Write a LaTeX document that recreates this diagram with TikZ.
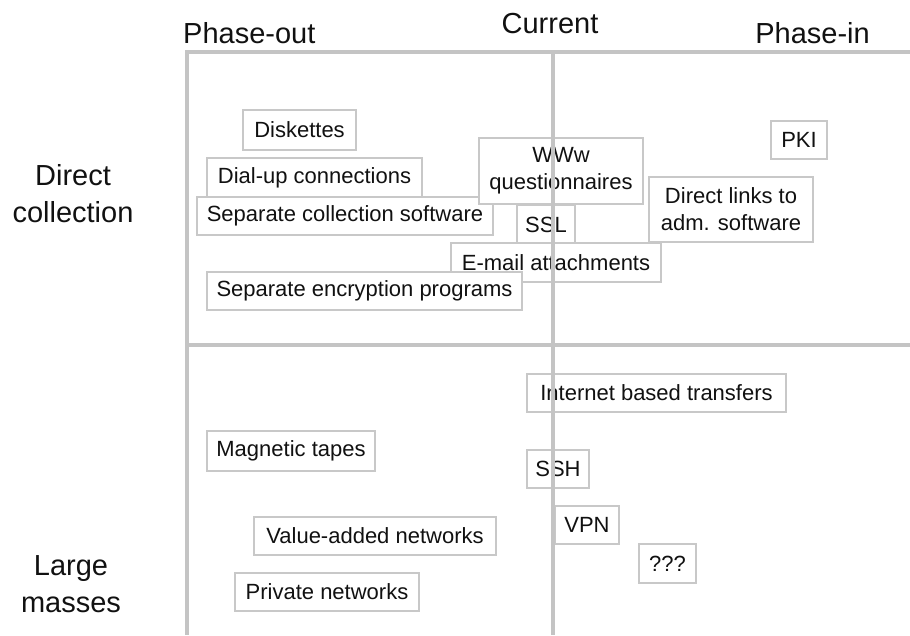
\documentclass[tikz,border=0pt]{standalone}
\usepackage{fontspec}
\setmainfont{Liberation Sans}
\definecolor{linegray}{HTML}{C4C4C4}
\definecolor{boxgray}{HTML}{C8C8C8}
\definecolor{txt}{HTML}{111111}
\newcommand{\boxfont}{\fontsize{22}{27}\selectfont}
\newcommand{\titlefont}{\fontsize{29}{37}\selectfont}
\tikzset{
  itembox/.style={draw=boxgray, line width=2pt, fill=white, inner sep=0pt,
    font=\boxfont, text=txt, align=center, rectangle},
  title/.style={font=\titlefont, text=txt, inner sep=0pt},
  grid/.style={draw=linegray, line width=4pt, line join=miter}
}
\begin{document}
\begin{tikzpicture}[x=1pt,y=-1pt]
\useasboundingbox (0,0) rectangle (910,635);
% titles
\node[title, anchor=base west] (pout) at (183,43) {Phase-out};
\node[title, anchor=base] (cur) at (550,33) {Current};
\node[title, anchor=base east] (pin) at (870,43) {Phase-in};
\node[title, anchor=base] (dc1) at (73,185) {Direct};
\node[title, anchor=base] (dc2) at (73,222) {collection};
\node[title, anchor=base] (lm1) at (71,575) {Large};
\node[title, anchor=base] (lm2) at (71,612) {masses};
% boxes
\node[itembox, minimum width=113pt, minimum height=40pt] (disk) at (299.5,130) {Diskettes};
\node[itembox, minimum width=215pt, minimum height=39pt] (dial) at (314.5,177.5) {Dial-up connections};
\node[itembox, minimum width=296pt, minimum height=38pt] (sepcoll) at (345,216) {Separate collection software};
\node[itembox, minimum width=164pt, minimum height=66pt] (www) at (561,171) {WWw\\questionnaires};
\node[itembox, minimum width=58pt, minimum height=39pt] (ssl) at (546,224.5) {SSL};
\node[itembox, minimum width=164pt, minimum height=65pt] (direct) at (731,209.5) {Direct links to\\adm. software};
\node[itembox, minimum width=56pt, minimum height=38pt] (pki) at (799,140) {PKI};
\node[itembox, minimum width=210pt, minimum height=39pt] (email) at (556,262.5) {E-mail attachments};
\node[itembox, minimum width=315pt, minimum height=38pt] (sepenc) at (364.5,291) {Separate encryption programs};
\node[itembox, minimum width=259pt, minimum height=38pt] (inet) at (656.5,393) {Internet based transfers};
\node[itembox, minimum width=62pt, minimum height=38pt] (ssh) at (558,469) {SSH};
\node[itembox, minimum width=64pt, minimum height=38pt] (vpn) at (587,525) {VPN};
\node[itembox, minimum width=57pt, minimum height=39pt] (qqq) at (667.5,563.5) {???};
\node[itembox, minimum width=168pt, minimum height=40pt] (mag) at (291,451) {Magnetic tapes};
\node[itembox, minimum width=242pt, minimum height=38pt] (van) at (375,536) {Value-added networks};
\node[itembox, minimum width=184pt, minimum height=38pt] (priv) at (327,592) {Private networks};
% grid lines
\coordinate (tl) at (187,52);
\coordinate (tr) at (910,52);
\coordinate (bl) at (187,635);
\coordinate (ct) at (553,52);
\coordinate (cb) at (553,635);
\coordinate (ml) at (187,345);
\coordinate (mr) at (910,345);
\draw[grid] (tr) -- (tl) -- (bl);
\draw[grid] (ct) -- (cb);
\draw[grid] (ml) -- (mr);
\end{tikzpicture}
\end{document}
